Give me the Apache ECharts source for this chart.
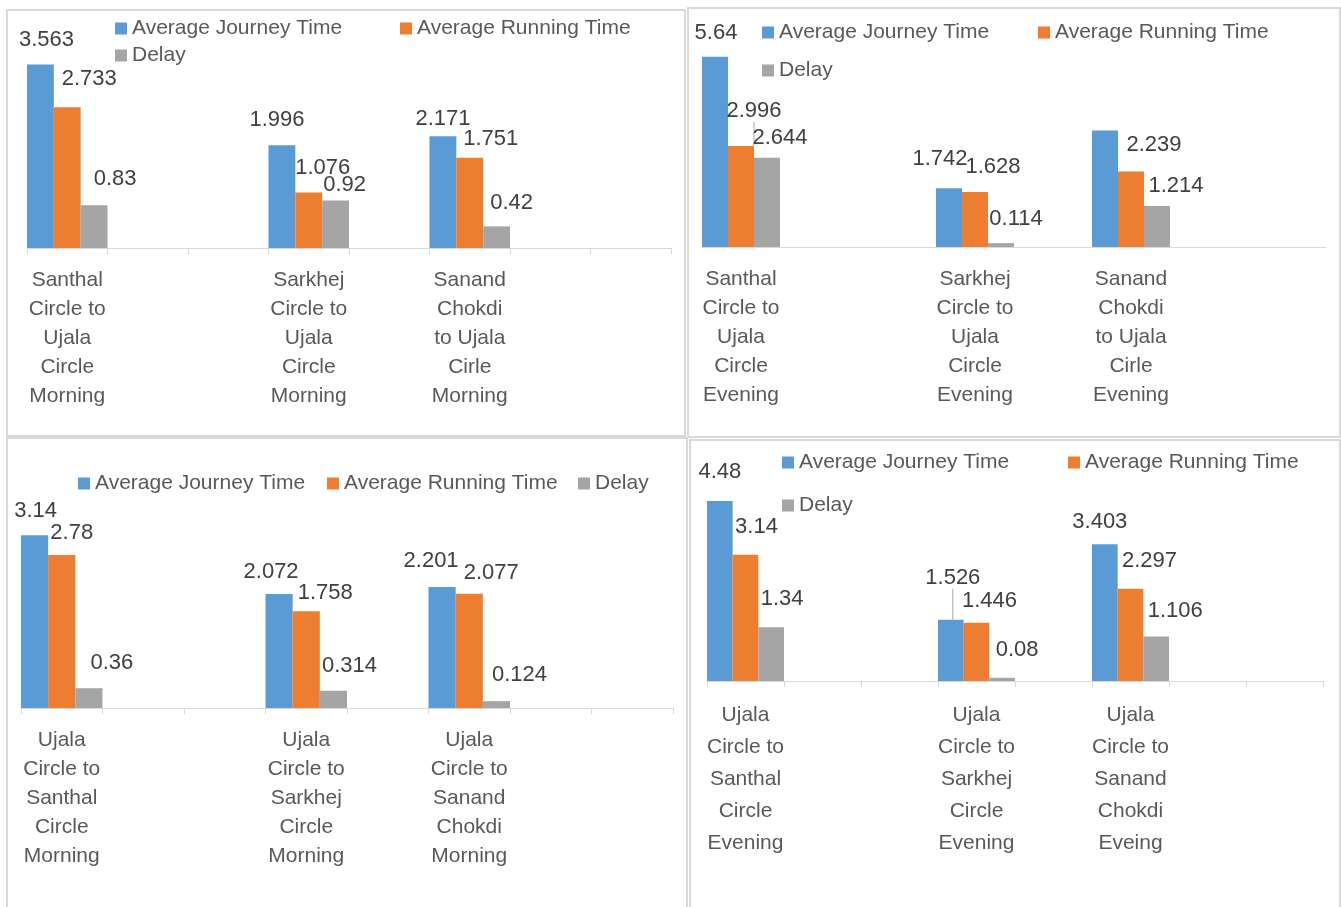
<!DOCTYPE html>
<html>
<head>
<meta charset="utf-8">
<script src="https://cdn.jsdelivr.net/npm/echarts@6/dist/echarts.min.js"></script>
<style>html,body{margin:0;padding:0;background:#fff;}#c{width:1341px;height:907px;}</style>
</head>
<body>
<div id="c"></div>
<script>
// ---- data ----
const seriesNames = ['Average Journey Time', 'Average Running Time', 'Delay'];

const categoriesP1 = ['Santhal\nCircle to\nUjala\nCircle\nMorning', '', '', 'Sarkhej\nCircle to\nUjala\nCircle\nMorning', '', 'Sanand\nChokdi\nto Ujala\nCirle\nMorning', '', ''];
const journeyP1 = [3.563, null, null, 1.996, null, 2.171, null, null];
const runningP1 = [2.733, null, null, 1.076, null, 1.751, null, null];
const delayP1   = [0.83,  null, null, 0.92,  null, 0.42,  null, null];

const categoriesP2 = ['Santhal\nCircle to\nUjala\nCircle\nEvening', '', '', 'Sarkhej\nCircle to\nUjala\nCircle\nEvening', '', 'Sanand\nChokdi\nto Ujala\nCirle\nEvening', '', ''];
const journeyP2 = [5.64,  null, null, 1.742, null, 3.453, null, null];
const runningP2 = [2.996, null, null, 1.628, null, 2.239, null, null];
const delayP2   = [2.644, null, null, 0.114, null, 1.214, null, null];

const categoriesP3 = ['Ujala\nCircle to\nSanthal\nCircle\nMorning', '', '', 'Ujala\nCircle to\nSarkhej\nCircle\nMorning', '', 'Ujala\nCircle to\nSanand\nChokdi\nMorning', '', ''];
const journeyP3 = [3.14, null, null, 2.072, null, 2.201, null, null];
const runningP3 = [2.78, null, null, 1.758, null, 2.077, null, null];
const delayP3   = [0.36, null, null, 0.314, null, 0.124, null, null];

const categoriesP4 = ['Ujala\nCircle to\nSanthal\nCircle\nEvening', '', '', 'Ujala\nCircle to\nSarkhej\nCircle\nEvening', '', 'Ujala\nCircle to\nSanand\nChokdi\nEveing', '', ''];
const journeyP4 = [4.48, null, null, 1.526, null, 3.403, null, null];
const runningP4 = [3.14, null, null, 1.446, null, 2.297, null, null];
const delayP4   = [1.34, null, null, 0.08,  null, 1.106, null, null];

// value labels not shown in the reference: [panel, series, category index]
const unlabeled = [[1, 0, 5]];
// value labels drawn with a leader line: [panel, series, category index]
const leaderLines = [[1, 1, 0], [3, 0, 3]];

// ---- layout / style ----
const FONT = 'Liberation Sans, Arial, sans-serif';
const COLORS = ['#5B9BD5', '#ED7D31', '#A5A5A5'];
const LABEL_FS = 22;
// label centre shift from the bar's top-centre, per panel / series / category index
const labelShift = [
  [ {0: [6, -25], 3: [-5, -25], 5: [0, -17]},
    {0: [22, -28], 3: [14, -25], 5: [21, -19]},
    {0: [21, -26], 3: [9, -16], 5: [15, -23]} ],
  [ {0: [1, -24], 3: [-9, -29], 5: [0, -25]},
    {0: [13, -35], 3: [18, -25], 5: [23, -26]},
    {0: [13, -20], 3: [15, -24], 5: [19, -20]} ],
  [ {0: [1, -24], 3: [-8, -22], 5: [-11, -26]},
    {0: [10, -22], 3: [19, -18], 5: [22, -21]},
    {0: [23, -25], 3: [16, -25], 5: [23, -26]} ],
  [ {0: [0, -29], 3: [2, -42], 5: [-5, -22]},
    {0: [11, -28], 3: [13, -22], 5: [19, -28]},
    {0: [11, -28], 3: [15, -28], 5: [19, -26]} ]
];
const panels = [
  { cats: categoriesP1, vals: [journeyP1, runningP1, delayP1], grid: {left: 27, top: 42, width: 644, height: 206}, max: 4, ticks: true, lh: 29,
    legend: [[115, 18], [400, 18], [115, 45]] },
  { cats: categoriesP2, vals: [journeyP2, runningP2, delayP2], grid: {left: 702, top: 44.5, width: 624, height: 202.5}, max: 6, ticks: false, lh: 29,
    legend: [[762, 22], [1038, 22], [762, 60]] },
  { cats: categoriesP3, vals: [journeyP3, runningP3, delayP3], grid: {left: 21, top: 515.5, width: 652, height: 192.5}, max: 3.5, ticks: true, lh: 29,
    legend: [[78, 473], [327, 473], [578, 473]] },
  { cats: categoriesP4, vals: [journeyP4, runningP4, delayP4], grid: {left: 707, top: 480, width: 616, height: 201}, max: 5, ticks: true, lh: 32,
    legend: [[782, 452], [1068, 452], [782, 495]] }
];

const option = {
  backgroundColor: '#ffffff',
  animation: false,
  textStyle: { fontFamily: FONT },
  grid: [], xAxis: [], yAxis: [], series: [], legend: [],
  graphic: [
    { type: 'rect', shape: { x: 7, y: 10, width: 678, height: 426 }, style: { fill: 'none', stroke: '#d9d9d9', lineWidth: 2 } },
    { type: 'rect', shape: { x: 688, y: 8, width: 652, height: 429 }, style: { fill: 'none', stroke: '#d9d9d9', lineWidth: 2 } },
    { type: 'rect', shape: { x: 7, y: 438, width: 680, height: 470 }, style: { fill: 'none', stroke: '#d9d9d9', lineWidth: 2 } },
    { type: 'rect', shape: { x: 690, y: 440, width: 650, height: 468 }, style: { fill: 'none', stroke: '#d9d9d9', lineWidth: 2 } }
  ]
};

const has = (list, pi, si, ci) => list.some(u => u[0] === pi && u[1] === si && u[2] === ci);

panels.forEach((p, pi) => {
  option.grid.push(Object.assign({ containLabel: false }, p.grid));
  option.xAxis.push({
    type: 'category', gridIndex: pi, data: p.cats, boundaryGap: true,
    axisLine: { show: true, lineStyle: { color: '#d9d9d9', width: 1 } },
    axisTick: { show: p.ticks, interval: 0, length: 6, lineStyle: { color: '#d9d9d9' } },
    axisLabel: { interval: 0, margin: 18, color: '#595959', fontSize: 21, lineHeight: p.lh, fontFamily: FONT, align: 'center' },
    splitLine: { show: false }
  });
  option.yAxis.push({
    type: 'value', gridIndex: pi, min: 0, max: p.max, show: false, splitLine: { show: false }
  });
  p.vals.forEach((arr, si) => {
    const data = arr.map((v, ci) => {
      if (v === null) return v;
      const item = { value: v };
      if (has(unlabeled, pi, si, ci)) item.label = { show: false };
      if (has(leaderLines, pi, si, ci)) item.labelLine = { show: true, lineStyle: { color: '#a6a6a6', width: 1 } };
      return item;
    });
    option.series.push({
      type: 'bar', name: seriesNames[si], xAxisIndex: pi, yAxisIndex: pi,
      data: data, barGap: '0%', barCategoryGap: '0%',
      itemStyle: { color: COLORS[si] },
      label: { show: true, position: 'top', distance: 0, color: '#404040', fontSize: LABEL_FS, lineHeight: LABEL_FS, fontFamily: FONT },
      labelLine: { show: false },
      labelLayout: function (params) {
        const sh = labelShift[pi][si][params.dataIndex] || [0, -25];
        const r = params.rect;
        const top = r.height < 0 ? r.y + r.height : r.y;
        return { x: r.x + r.width / 2 + sh[0], y: top + sh[1], align: 'center', verticalAlign: 'middle' };
      }
    });
  });
  p.legend.forEach((pos, li) => {
    option.legend.push({
      data: [seriesNames[li]], left: pos[0], top: pos[1], padding: 0,
      itemWidth: 12, itemHeight: 12, icon: 'rect',
      textStyle: { color: '#595959', fontSize: 21, fontFamily: FONT }
    });
  });
});

const chart = echarts.init(document.getElementById('c'), null, { renderer: 'canvas' });
chart.setOption(option);
</script>
</body>
</html>
